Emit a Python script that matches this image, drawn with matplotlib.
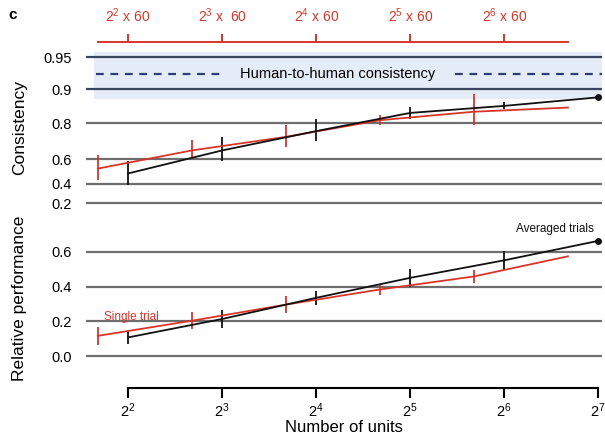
"""
Consistency and relative performance vs. number of units,
single trial vs. averaged trials.
"""

import numpy as np
import matplotlib
matplotlib.use("Agg")
from matplotlib import pyplot as plt
from matplotlib.ticker import NullLocator

plt.rcParams["font.family"] = ["Liberation Sans", "DejaVu Sans"]
plt.rcParams["mathtext.default"] = "regular"

RED = "#d8352a"
BLACK = "#111111"
GRID = "#6e6e6e"
NAVY = "#3b4560"

# number of units (averaged trials) and the matching single-trial positions
units = [4, 8, 16, 32, 64, 128]
trial_units = [3.2, 6.4, 12.8, 25.6, 51.2, 102.4]

unit_ticks = [4, 8, 16, 32, 64, 128]
unit_labels = ["$2^{2}$", "$2^{3}$", "$2^{4}$", "$2^{5}$", "$2^{6}$", "$2^{7}$"]
trial_ticks = [4, 8, 16, 32, 64]
trial_labels = ["$2^{2}$ x 60", "$2^{3}$ x  60", "$2^{4}$ x 60",
                "$2^{5}$ x 60", "$2^{6}$ x 60"]

cons_avg = [0.49, 0.66, 0.765, 0.837, 0.859, 0.882]
cons_avg_err = [0.10, 0.075, 0.05, 0.02, 0.01, 0.0]
cons_single = [0.53, 0.66, 0.737, 0.811, 0.841, 0.854]
cons_single_err = [0.10, 0.06, 0.055, 0.02, 0.05, 0.0]

perf_avg = [0.108, 0.214, 0.336, 0.451, 0.552, 0.664]
perf_avg_err = [0.035, 0.05, 0.04, 0.053, 0.055, 0.0]
perf_single = [0.117, 0.204, 0.297, 0.384, 0.459, 0.575]
perf_single_err = [0.05, 0.048, 0.048, 0.03, 0.04, 0.0]

human_cons = 0.928
human_band = (0.88, 0.955)

cons_ticks = [0.2, 0.4, 0.6, 0.8, 0.9, 0.95]
perf_ticks = [0.0, 0.2, 0.4, 0.6]

W, H = 605, 438
fig = plt.figure(figsize=(W / 100, H / 100), dpi=100)

left = 86 / W
width = 516 / W
ax1 = fig.add_axes([left, 1 - 208 / H, width, 161 / H])
ax2 = fig.add_axes([left, 1 - 364 / H, width, 132 / H])
axu = fig.add_axes([left, 1 - 42 / H, width, 0.0001])

for ax in (ax1, ax2, axu):
    ax.set_xscale("log", base=2)
    ax.set_xlim(2 ** 1.553, 2 ** 7.04)
    for s in ax.spines.values():
        s.set_visible(False)
    ax.patch.set_visible(False)
    ax.xaxis.set_minor_locator(NullLocator())

# Fisher-z scale for the consistency panel
ax1.set_yscale("function", functions=(np.arctanh, np.tanh))
ax1.set_ylim(0.15, 0.96)
ax2.set_ylim(-0.045, 0.715)
for ax in (ax1, ax2):
    ax.yaxis.set_minor_locator(NullLocator())

# human-to-human band
ax1.axhspan(human_band[0], human_band[1], xmin=0.015, color="#e4ecf8",
            zorder=0)
ax1.axhline(human_cons, xmin=0.02, xmax=0.27, color="#2f3d70", lw=1.6,
            ls=(0, (3.5, 3)), zorder=1)
ax1.axhline(human_cons, xmin=0.715, xmax=1.0, color="#2f3d70", lw=1.6,
            ls=(0, (3.5, 3)), zorder=1)
ax1.text(0.298, human_cons, "Human-to-human consistency", fontsize=10.5,
         va="center", ha="left", transform=ax1.get_yaxis_transform())

for t in cons_ticks:
    c = NAVY if t >= 0.9 else GRID
    ax1.axhline(t, color=c, lw=1.6, zorder=1)
for t in perf_ticks:
    ax2.axhline(t, color=GRID, lw=1.6, zorder=1)

ax1.set_yticks(cons_ticks, ["0.2", "0.4", "0.6", "0.8", "0.9", "0.95"])
ax2.set_yticks(perf_ticks, ["0.0", "0.2", "0.4", "0.6"])
for ax in (ax1, ax2):
    ax.tick_params(axis="y", length=0, pad=10, labelsize=10.5)

line_kw = dict(lw=1.3, elinewidth=1.3, capsize=0, zorder=3)
ax1.errorbar(trial_units, cons_single, yerr=cons_single_err, color=RED,
             **line_kw)
ax1.errorbar(units, cons_avg, yerr=cons_avg_err, color=BLACK, **line_kw)
ax1.plot(units[-1], cons_avg[-1], "o", color=BLACK, ms=4, zorder=4)

ax2.errorbar(trial_units, perf_single, yerr=perf_single_err, color=RED,
             **line_kw)
ax2.errorbar(units, perf_avg, yerr=perf_avg_err, color=BLACK, **line_kw)
ax2.plot(units[-1], perf_avg[-1], "o", color=BLACK, ms=4, zorder=4)

ax2.text(3.35, 0.19, "Single trial", color=RED, fontsize=8.5,
         ha="left", va="bottom")
ax2.text(124, 0.70, "Averaged trials", color=BLACK, fontsize=8.5,
         ha="right", va="bottom")

ax1.set_ylabel("Consistency", fontsize=12.5)
ax2.set_ylabel("Relative performance", fontsize=12.5)
ax1.yaxis.set_label_coords(-0.115, 0.5)
ax2.yaxis.set_label_coords(-0.115, 0.5)

# x axis: number of units
ax1.tick_params(axis="x", bottom=False, labelbottom=False)
ax2.spines["bottom"].set_visible(True)
ax2.spines["bottom"].set_position(("outward", 17))
ax2.spines["bottom"].set_bounds(units[0], units[-1])
ax2.spines["bottom"].set_linewidth(1.5)
ax2.set_xticks(unit_ticks, unit_labels)
ax2.xaxis.set_minor_locator(NullLocator())
ax2.tick_params(axis="x", direction="out", length=7, width=1.5,
                labelsize=10.5, pad=3)
ax2.set_xlabel("Number of units", fontsize=12, labelpad=0)

# red top axis: trials
axu.spines["top"].set_visible(True)
axu.spines["top"].set_color(RED)
axu.spines["top"].set_linewidth(1.4)
axu.spines["top"].set_bounds(trial_units[0], trial_units[-1])
axu.set_yticks([])
axu.set_xticks(trial_ticks, trial_labels)
axu.xaxis.set_minor_locator(NullLocator())
axu.tick_params(axis="x", top=True, labeltop=True, bottom=False,
                labelbottom=False, direction="out", length=6, width=1.4,
                color=RED, labelcolor=RED, labelsize=10, pad=6)

fig.text(8 / W, 1 - 15 / H, "c", fontsize=11, fontweight="bold",
         va="center", ha="left")

fig.savefig("out.png", dpi=100)
